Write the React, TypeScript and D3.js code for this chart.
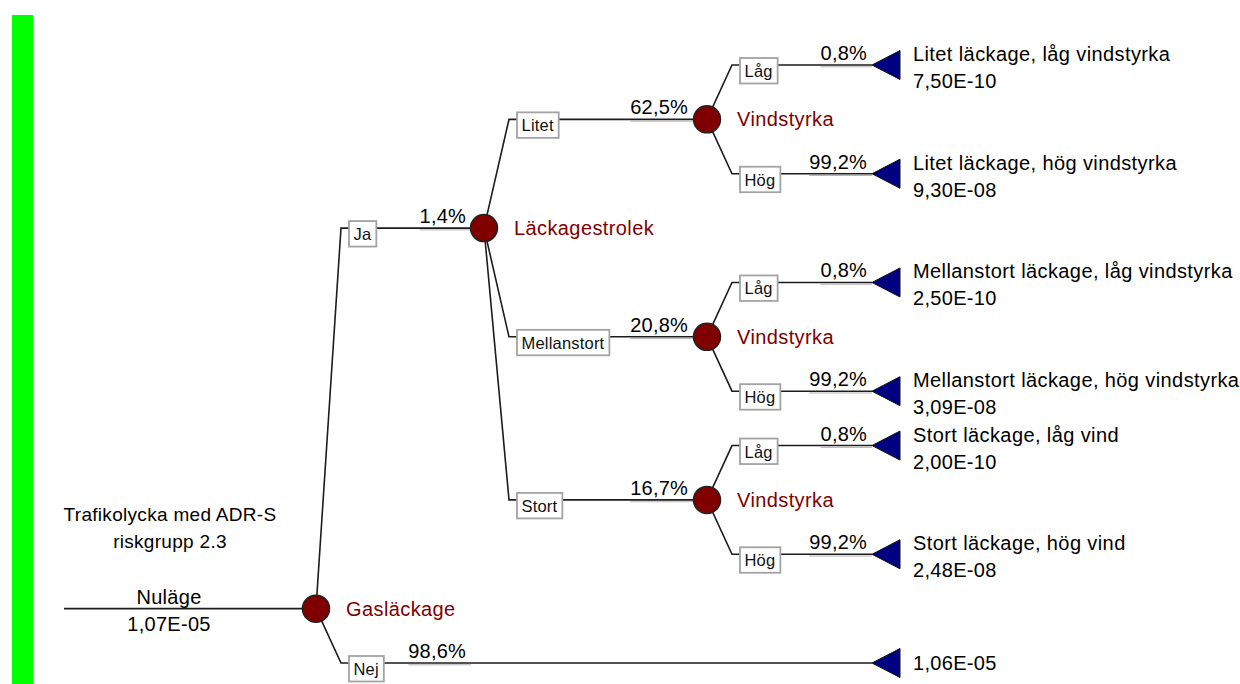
import { useEffect, useRef } from 'react';
import * as d3 from 'd3';

// event tree: one entry per node, parent given by id
const nodeIds = ['gas', 'size', 'windS', 'windM', 'windL', 'sLow', 'sHigh', 'mLow', 'mHigh', 'lLow', 'lHigh', 'nej'];
const nodeParents = ['', 'gas', 'size', 'size', 'size', 'windS', 'windS', 'windM', 'windM', 'windL', 'windL', 'gas'];
const nodeRows = [10, 3, 1, 5, 8, 0, 2, 4, 6, 7, 9, 11];
const nodeTitles = [
  'Gasläckage', 'Läckagestrolek', 'Vindstyrka', 'Vindstyrka', 'Vindstyrka',
  'Litet läckage, låg vindstyrka', 'Litet läckage, hög vindstyrka',
  'Mellanstort läckage, låg vindstyrka', 'Mellanstort läckage, hög vindstyrka',
  'Stort läckage, låg vind', 'Stort läckage, hög vind', '',
];
const branchNames = ['', 'Ja', 'Litet', 'Mellanstort', 'Stort', 'Låg', 'Hög', 'Låg', 'Hög', 'Låg', 'Hög', 'Nej'];
const branchProbs = [NaN, 1.4, 62.5, 20.8, 16.7, 0.8, 99.2, 0.8, 99.2, 0.8, 99.2, 98.6];
const leafValues = [NaN, NaN, NaN, NaN, NaN, 7.5e-10, 9.3e-8, 2.5e-10, 3.09e-8, 2.0e-10, 2.48e-8, 1.06e-5];

const rootName = 'Nuläge';
const rootValue = 1.07e-5;
const rootCaption = ['Trafikolycka med ADR-S', 'riskgrupp 2.3'];

const W = 1240;
const H = 684;
const FONT = '"Liberation Sans", Arial, sans-serif';
const LINE = '#1c1c1c';
const NODE_RED = '#800000';
const TRI_BLUE = '#000080';

const fmtPct = (v: number) => d3.format('.1f')(v).replace('.', ',') + '%';
const fmtExp = (v: number) => {
  const [m, e] = v.toExponential(2).split('e');
  const n = +e;
  return m.replace('.', ',') + 'E' + (n < 0 ? '-' : '+') + String(Math.abs(n)).padStart(2, '0');
};

type Row = { id: string; parent: string; row: number; title: string; branch: string; prob: number; value: number };

export default function App() {
  const svgRef = useRef<SVGSVGElement>(null);

  useEffect(() => {
    const svg = d3.select(svgRef.current);
    svg.selectAll('*').remove();

    const rows: Row[] = nodeIds.map((id, i) => ({
      id, parent: nodeParents[i], row: nodeRows[i], title: nodeTitles[i],
      branch: branchNames[i], prob: branchProbs[i], value: leafValues[i],
    }));
    const root = d3.stratify<Row>().id(d => d.id).parentId(d => d.parent || null)(rows);
    const nodes = root.descendants();
    const links = root.links();

    const y = d3.scaleLinear().domain([0, 11]).range([65, 663]);
    const colX = d3.scaleOrdinal<number, number>().domain([0, 1, 2]).range([316, 484, 707]);
    const probRight = d3.scaleOrdinal<number, number>().domain([1, 2, 3]).range([466, 688, 867]);
    const tipX = 872;
    const nodeX = (n: d3.HierarchyNode<Row>) => (n.children ? colX(n.depth) : tipX);
    const elbowX = (n: d3.HierarchyNode<Row>) => colX(n.depth) + 25;
    const R = 13.5;

    // green side bar
    svg.append('rect').attr('x', 12).attr('y', 15).attr('width', 21).attr('height', H - 15).attr('fill', '#00ff00');

    const g = svg.append('g');

    // root stem
    const ry = y(root.data.row);
    g.append('line').attr('x1', 64).attr('x2', colX(0)).attr('y1', ry).attr('y2', ry)
      .attr('stroke', LINE).attr('stroke-width', 1.6);

    // branches
    g.selectAll('path.branch').data(links).join('path')
      .attr('class', 'branch')
      .attr('fill', 'none').attr('stroke', LINE).attr('stroke-width', 1.6)
      .attr('d', l => {
        const ex = elbowX(l.source);
        return `M${colX(l.source.depth)},${y(l.source.data.row)}L${ex},${y(l.target.data.row)}L${nodeX(l.target)},${y(l.target.data.row)}`;
      });

    // probability labels with their underline
    const probs = g.selectAll('g.prob').data(links).join('g').attr('class', 'prob');
    probs.append('text')
      .attr('x', l => probRight(l.target.depth))
      .attr('y', l => y(l.target.data.row) - 5)
      .attr('text-anchor', 'end')
      .attr('font-family', FONT).attr('font-size', 20).attr('letter-spacing', 0.2).attr('fill', '#000')
      .text(l => fmtPct(l.target.data.prob));
    probs.each(function () {
      const t = d3.select(this).select<SVGTextElement>('text');
      const w = t.node()!.getComputedTextLength();
      const xr = +t.attr('x');
      const yy = +t.attr('y') + 6.8;
      d3.select(this).insert('line', 'text')
        .attr('x1', xr - w).attr('x2', xr + 5).attr('y1', yy).attr('y2', yy)
        .attr('stroke', '#b4b4b4').attr('stroke-width', 1);
    });

    // branch name boxes
    const boxes = g.selectAll('g.box').data(links).join('g').attr('class', 'box');
    boxes.each(function (l) {
      const gx = d3.select(this);
      const bx = elbowX(l.source) + 8;
      const by = y(l.target.data.row);
      const rect = gx.append('rect');
      const t = gx.append('text')
        .attr('x', bx + 4.5).attr('y', by + 12)
        .attr('font-family', FONT).attr('font-size', 16.5).attr('letter-spacing', 0.2).attr('fill', '#111')
        .text(l.target.data.branch);
      const w = t.node()!.getComputedTextLength();
      rect.attr('x', bx).attr('y', by - 7).attr('width', w + 9.5).attr('height', 25.5)
        .attr('fill', '#fff').attr('stroke', '#a3a3a3').attr('stroke-width', 1.8);
    });

    // chance nodes
    const chance = nodes.filter(n => n.children);
    g.selectAll('circle.chance').data(chance).join('circle')
      .attr('class', 'chance')
      .attr('cx', n => colX(n.depth)).attr('cy', n => y(n.data.row)).attr('r', R)
      .attr('fill', NODE_RED).attr('stroke', '#222').attr('stroke-width', 1.5);
    g.selectAll('text.chance').data(chance).join('text')
      .attr('class', 'chance')
      .attr('x', n => colX(n.depth) + 30).attr('y', n => y(n.data.row) + 7)
      .attr('font-family', FONT).attr('font-size', 20).attr('letter-spacing', 0.4).attr('fill', NODE_RED)
      .text(n => n.data.title);

    // terminal nodes
    const leaves = root.leaves();
    g.selectAll('path.term').data(leaves).join('path')
      .attr('class', 'term')
      .attr('d', n => {
        const yy = y(n.data.row);
        return `M${tipX},${yy}L${tipX + 28},${yy - 14.5}L${tipX + 28},${yy + 14.5}Z`;
      })
      .attr('fill', TRI_BLUE).attr('stroke', '#111').attr('stroke-width', 1);
    const lt = g.selectAll('g.leaf').data(leaves).join('g').attr('class', 'leaf');
    lt.append('text')
      .attr('x', tipX + 41).attr('y', n => y(n.data.row) - 4)
      .attr('font-family', FONT).attr('font-size', 20).attr('letter-spacing', 0.4).attr('fill', '#000')
      .text(n => n.data.title);
    lt.append('text')
      .attr('x', tipX + 41).attr('y', n => y(n.data.row) + (n.data.title ? 23 : 7))
      .attr('font-family', FONT).attr('font-size', 20).attr('letter-spacing', 0.3).attr('fill', '#000')
      .text(n => fmtExp(n.data.value));

    // root labels
    const cx = 169;
    g.append('text').attr('x', cx).attr('y', ry - 5).attr('text-anchor', 'middle')
      .attr('font-family', FONT).attr('font-size', 20).attr('letter-spacing', 0.3).text(rootName);
    g.append('text').attr('x', cx).attr('y', ry + 22).attr('text-anchor', 'middle')
      .attr('font-family', FONT).attr('font-size', 20).attr('letter-spacing', 0.3).text(fmtExp(rootValue));
    rootCaption.forEach((c, i) => {
      g.append('text').attr('x', cx + 1).attr('y', ry - 88 + i * 27).attr('text-anchor', 'middle')
        .attr('font-family', FONT).attr('font-size', 19).attr('letter-spacing', 0.3).text(c);
    });
  }, []);

  return (
    <div style={{ position: 'absolute', left: 0, top: 0, width: W, height: H, background: '#fff' }}>
      <svg ref={svgRef} width={W} height={H} style={{ display: 'block' }} />
    </div>
  );
}
